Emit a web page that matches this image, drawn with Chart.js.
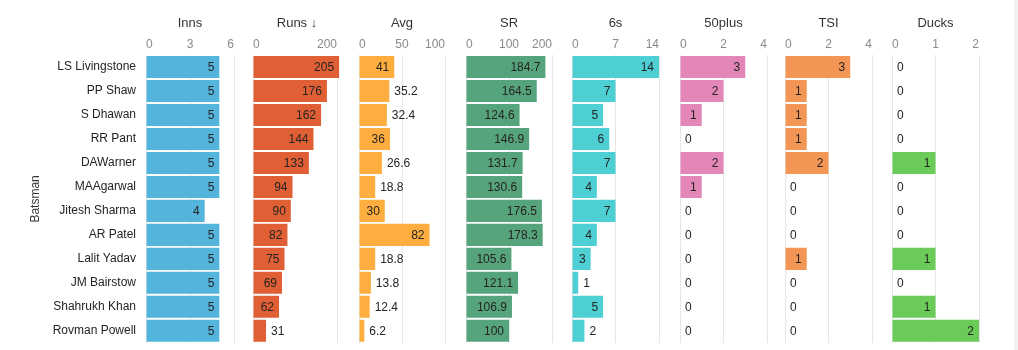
<!DOCTYPE html>
<html>
<head>
<meta charset="utf-8">
<script src="https://cdn.jsdelivr.net/npm/chart.js@4.4.1/dist/chart.umd.min.js"></script>
<style>
  html, body { margin: 0; padding: 0; background: #fff; }
  #wrap { position: relative; width: 1018px; height: 350px; overflow: hidden; }
  #wrap canvas { position: absolute; top: 0; }
  #edge { position: absolute; left: 1014px; top: 0; width: 4px; height: 350px; background: #f1f1f1; }
</style>
</head>
<body>
<div id="wrap"><div id="edge"></div></div>
<script>
const batsmen = ['LS Livingstone', 'PP Shaw', 'S Dhawan', 'RR Pant', 'DAWarner', 'MAAgarwal',
  'Jitesh Sharma', 'AR Patel', 'Lalit Yadav', 'JM Bairstow', 'Shahrukh Khan', 'Rovman Powell'];

const inns = [5, 5, 5, 5, 5, 5, 4, 5, 5, 5, 5, 5];
const runs = [205, 176, 162, 144, 133, 94, 90, 82, 75, 69, 62, 31];
const avg = [41, 35.2, 32.4, 36, 26.6, 18.8, 30, 82, 18.8, 13.8, 12.4, 6.2];
const sr = [184.7, 164.5, 124.6, 146.9, 131.7, 130.6, 176.5, 178.3, 105.6, 121.1, 106.9, 100];
const sixes = [14, 7, 5, 6, 7, 4, 7, 4, 3, 1, 5, 2];
const fiftyPlus = [3, 2, 1, 0, 2, 1, 0, 0, 0, 0, 0, 0];
const tsi = [3, 1, 1, 1, 2, 0, 0, 0, 1, 0, 0, 0];
const ducks = [0, 0, 0, 0, 1, 0, 0, 0, 1, 0, 1, 2];

// axis ticks shown on each small multiple
const innsTicks = [0, 3, 6];
const runsTicks = [0, 200];
const avgTicks = [0, 50, 100];
const srTicks = [0, 100, 200];
const sixesTicks = [0, 7, 14];
const fiftyTicks = [0, 2, 4];
const tsiTicks = [0, 2, 4];
const ducksTicks = [0, 1, 2];

const FONT = '"Liberation Sans", Arial, sans-serif';
const PAD = 16;
const CANVAS_H = 360; // taller than the page, bottom is clipped

// value label inside the bar end if it fits, otherwise just outside
const barLabels = {
  id: 'barLabels',
  afterDatasetsDraw(chart) {
    const ctx = chart.ctx;
    const meta = chart.getDatasetMeta(0);
    const values = chart.data.datasets[0].data;
    ctx.save();
    ctx.font = '12px ' + FONT;
    ctx.fillStyle = '#252423';
    ctx.textBaseline = 'middle';
    meta.data.forEach((bar, i) => {
      const text = String(values[i]);
      const w = ctx.measureText(text).width;
      if (w + 10 <= bar.x - bar.base) {
        ctx.textAlign = 'right';
        ctx.fillText(text, bar.x - 5, bar.y + 1);
      } else {
        ctx.textAlign = 'left';
        ctx.fillText(text, bar.x + 5, bar.y + 1);
      }
    });
    ctx.restore();
  }
};

function makePanel(title, values, color, max, tickVals, left, width, first) {
  const canvas = document.createElement('canvas');
  const cLeft = first ? 0 : left - PAD;
  const cWidth = first ? left + width + PAD : width + 2 * PAD;
  canvas.style.left = cLeft + 'px';
  canvas.style.width = cWidth + 'px';
  canvas.style.height = CANVAS_H + 'px';
  canvas.width = cWidth;
  canvas.height = CANVAS_H;
  document.getElementById('wrap').appendChild(canvas);

  new Chart(canvas.getContext('2d'), {
    type: 'bar',
    data: {
      labels: batsmen,
      datasets: [{
        data: values,
        backgroundColor: color,
        barPercentage: 0.92,
        categoryPercentage: 1
      }]
    },
    options: {
      indexAxis: 'y',
      responsive: false,
      animation: false,
      layout: { padding: { left: first ? 0 : PAD, right: PAD, top: 0, bottom: 17.2 } },
      plugins: { legend: { display: false }, tooltip: { enabled: false } },
      scales: {
        x: {
          position: 'top',
          min: 0,
          max: max,
          afterFit: s => { s.height = 55; },
          afterBuildTicks: s => { s.ticks = tickVals.map(v => ({ value: v })); },
          ticks: {
            align: 'inner',
            padding: 3,
            color: '#8a8a8a',
            font: { family: FONT, size: 12 }
          },
          grid: { color: '#e6e6e6', drawTicks: false },
          border: { display: false },
          title: {
            display: true,
            text: title,
            color: '#333',
            padding: { top: 16 },
            font: { family: FONT, size: 13 }
          }
        },
        y: {
          display: first,
          afterFit: s => { if (first) s.width = left; },
          grid: { display: false, drawTicks: false },
          border: { display: false },
          ticks: {
            padding: 10,
            color: '#252423',
            font: { family: FONT, size: 12 }
          },
          title: {
            display: true,
            text: 'Batsman',
            color: '#333',
            padding: { top: 28 },
            font: { family: FONT, size: 12 }
          }
        }
      }
    },
    plugins: [barLabels]
  });
}

makePanel('Inns', inns, '#53b5db', 6, innsTicks, 146, 88, true);
makePanel('Runs \u2193', runs, '#e15f34', 209.5, runsTicks, 253, 88, false);
makePanel('Avg', avg, '#fdae3e', 100, avgTicks, 359, 86, false);
makePanel('SR', sr, '#55a47b', 200, srTicks, 466, 86, false);
makePanel('6s', sixes, '#4ecfd4', 14, sixesTicks, 572, 87, false);
makePanel('50plus', fiftyPlus, '#e287b7', 4, fiftyTicks, 680, 87, false);
makePanel('TSI', tsi, '#f39655', 4, tsiTicks, 785, 87, false);
makePanel('Ducks', ducks, '#6acb58', 2, ducksTicks, 892, 87, false);
</script>
</body>
</html>
